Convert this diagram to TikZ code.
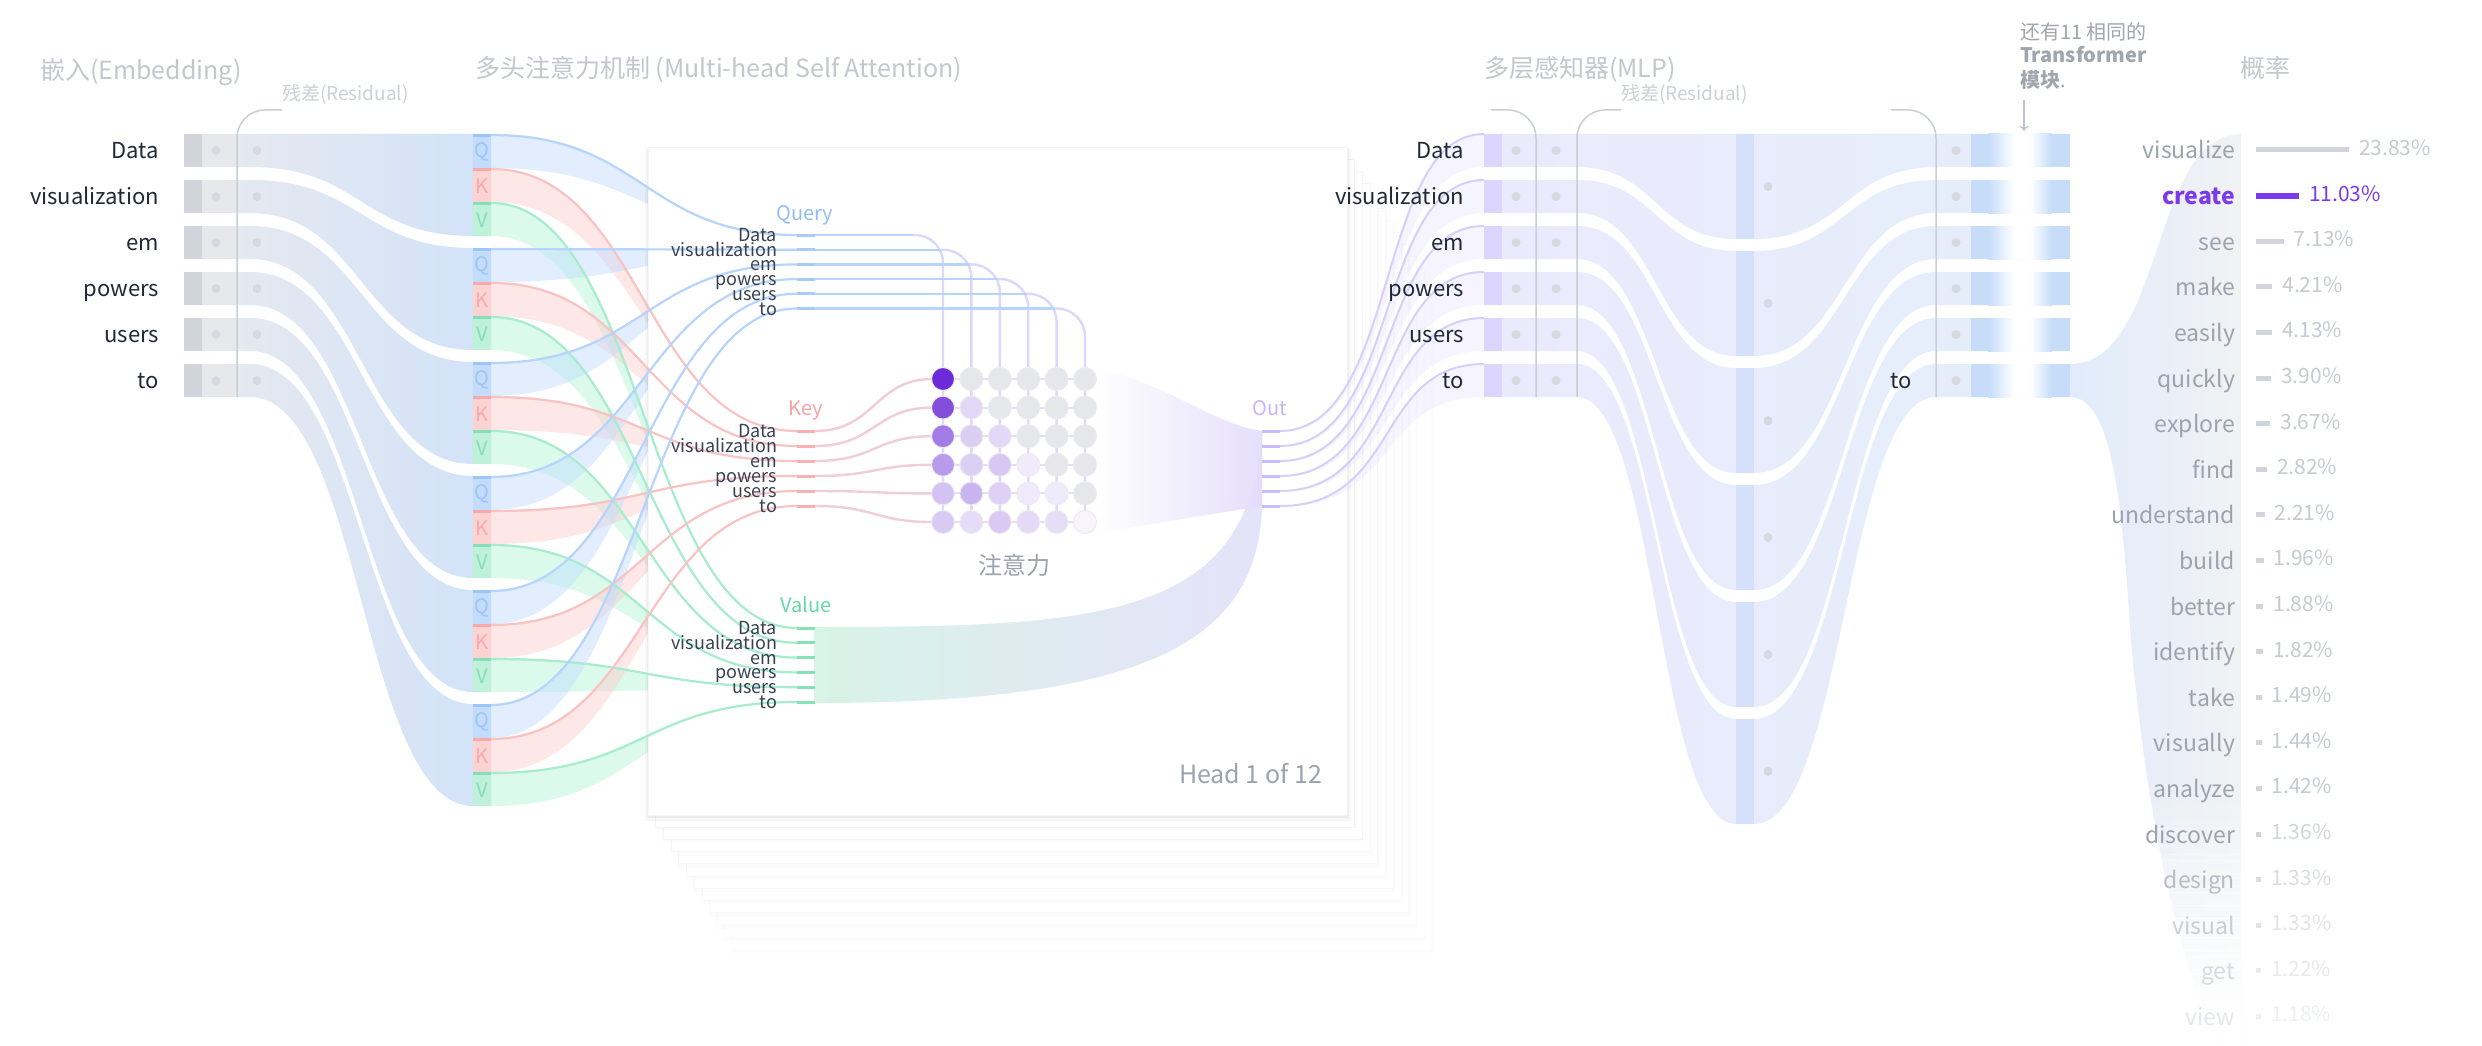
\documentclass[tikz,border=0pt]{standalone}
\usepackage{fontspec}
\setmainfont{Noto Sans CJK SC}
\usetikzlibrary{arrows.meta}

\definecolor{tokc}{HTML}{1F2937}
\definecolor{ptokc}{HTML}{374151}
\definecolor{ttlc}{HTML}{C3C7CE}
\definecolor{resc}{HTML}{CDD0D6}
\definecolor{brkc}{HTML}{C9CDD4}
\definecolor{dotc}{HTML}{D6D9DF}
\definecolor{embdark}{HTML}{D1D5DB}
\definecolor{emblight}{HTML}{E6E8EC}
\definecolor{embL}{HTML}{E5E9F0}
\definecolor{embR}{HTML}{D1E2F9}
\definecolor{qblk}{HTML}{C4DCFB}
\definecolor{qstr}{HTML}{9EC5F8}
\definecolor{kblk}{HTML}{FCD3D3}
\definecolor{kstr}{HTML}{F8AAAA}
\definecolor{vblk}{HTML}{BFF0D9}
\definecolor{vstr}{HTML}{86DFB8}
\definecolor{qln}{HTML}{B7D4FC}
\definecolor{kln}{HTML}{F9C3C3}
\definecolor{vln}{HTML}{A6ECCD}
\definecolor{qfl}{HTML}{BFDBFE}
\definecolor{kfl}{HTML}{FECACA}
\definecolor{vfl}{HTML}{A7F3D0}
\definecolor{lav}{HTML}{DCD7FD}
\definecolor{keyln}{HTML}{F0CDD8}
\definecolor{rowln}{HTML}{EADCF0}
\definecolor{circs}{HTML}{ECEAF3}
\definecolor{qtick}{HTML}{A8CBFA}
\definecolor{ktick}{HTML}{F8B0B0}
\definecolor{vtick}{HTML}{86E0B9}
\definecolor{otick}{HTML}{C9BCFD}
\definecolor{querytxt}{HTML}{93BDF8}
\definecolor{keytxt}{HTML}{F5A3A3}
\definecolor{valtxt}{HTML}{66D9A6}
\definecolor{outtxt}{HTML}{C4B5FD}
\definecolor{valL}{HTML}{D8F3E7}
\definecolor{valR}{HTML}{E5E3FA}
\definecolor{attnR}{HTML}{E2DCFB}
\definecolor{greytxt}{HTML}{9CA3AF}
\definecolor{outln}{HTML}{D6CFFC}
\definecolor{outfl}{HTML}{DDD6FE}
\definecolor{mlpL}{HTML}{EBEAFC}
\definecolor{mlpR}{HTML}{E4EEFB}
\definecolor{mlppur}{HTML}{DCD5FD}
\definecolor{mlpbig}{HTML}{D5E0FA}
\definecolor{bandblue}{HTML}{C6DCF9}
\definecolor{probL}{HTML}{E1EBFB}
\definecolor{probR}{HTML}{F1F2F4}
\definecolor{purp}{HTML}{7C3AED}
\definecolor{wA}{HTML}{9CA3AF}
\definecolor{wB}{HTML}{B8BDC5}
\definecolor{wC}{HTML}{CACDD3}
\definecolor{wD}{HTML}{D8DADF}
\definecolor{wE}{HTML}{E5E7EA}
\definecolor{pA}{HTML}{C6CAD1}
\definecolor{pB}{HTML}{D2D5DA}
\definecolor{pC}{HTML}{DBDDE1}
\definecolor{pD}{HTML}{E2E4E7}
\definecolor{pE}{HTML}{E8E9EC}
\definecolor{pF}{HTML}{EEEFF1}
\definecolor{bA}{HTML}{D1D5DB}
\definecolor{bB}{HTML}{DADDE2}
\definecolor{bC}{HTML}{E2E4E8}
\definecolor{bD}{HTML}{E8EAED}
\definecolor{bE}{HTML}{EEEFF1}
\definecolor{arrc}{HTML}{BFC3CA}
\definecolor{anntxt}{HTML}{A0A5AE}

\newcommand\mcirc[3]{\definecolor{tmpc}{HTML}{#3}\filldraw[fill=tmpc, draw=circs, line width=1pt] (943+28.4*#2,379+28.6*#1) circle[radius=11.5pt];}

\begin{document}
\begin{tikzpicture}[x=1pt,y=-1pt,
  every node/.style={inner sep=0pt, outer sep=0pt},
  tok/.style={font=\fontsize{22}{26}\selectfont, text=tokc, anchor=base east},
  ptok/.style={font=\fontsize{18}{20}\selectfont, text=ptokc, anchor=base east},
  ttl/.style={font=\fontsize{25}{30}\selectfont, text=ttlc, anchor=base west},
  res/.style={font=\fontsize{19}{22}\selectfont, text=resc, anchor=base west},
  brk/.style={draw=brkc, line width=1.5pt, rounded corners=28pt},
  hdr/.style={font=\fontsize{20}{22}\selectfont, anchor=base},
  blk/.style={font=\fontsize{20}{22}\selectfont},
  dotm/.style={fill=dotc}]
\useasboundingbox (0,0) rectangle (2482,1046);
\fill[white] (0,0) rectangle (2482,1046);

% ---------------- Embedding ribbons
\foreach \i in {0,...,5}{
  \pgfmathsetmacro\rT{134+46*\i}
  \pgfmathsetmacro\rB{167+46*\i}
  \pgfmathsetmacro\gT{134+114*\i}
  \pgfmathsetmacro\gB{236+114*\i}
  \shade[left color=embL, right color=embR] (237,\rT) -- (250,\rT) .. controls (361.5,\rT) and (361.5,\gT) .. (473,\gT) -- (491,\gT) -- (491,\gB) -- (473,\gB) .. controls (361.5,\gB) and (361.5,\rB) .. (250,\rB) -- (237,\rB) -- cycle;
}
\foreach \w [count=\i from 0] in {Data,visualization,em,powers,users,to}{
  \pgfmathsetmacro\rT{134+46*\i}
  \fill[embdark] (184,\rT) rectangle (202,\rT+33);
  \fill[emblight] (202,\rT) rectangle (237,\rT+33);
  \fill[dotm] (216,\rT+16.5) circle[radius=4.5pt];
  \fill[dotm] (257,\rT+16.5) circle[radius=4.5pt];
  \node[tok] (e\i) at (159,\rT+24.5) {\w};
}
\draw[brk] (282,110) -| (237,397);

% ---------------- QKV ribbon fills
\foreach \i in {0,...,5}{
  \pgfmathsetmacro\gT{134+114*\i}
  \pgfmathsetmacro\yq{235+14.7*\i}
  \pgfmathsetmacro\yk{431+15*\i}
  \pgfmathsetmacro\yv{628+14.8*\i}
  \fill[qfl, fill opacity=0.45] (491,\gT) .. controls (644,\gT) and (644,\yq) .. (797,\yq) -- (797,\yq+1.5) .. controls (644,\yq+1.5) and (644,\gT+34) .. (491,\gT+34) -- cycle;
  \fill[kfl, fill opacity=0.45] (491,\gT+34) .. controls (644,\gT+34) and (644,\yk) .. (797,\yk) -- (797,\yk+1.5) .. controls (644,\yk+1.5) and (644,\gT+68) .. (491,\gT+68) -- cycle;
  \fill[vfl, fill opacity=0.4] (491,\gT+68) .. controls (644,\gT+68) and (644,\yv) .. (797,\yv) -- (797,\yv+1.5) .. controls (644,\yv+1.5) and (644,\gT+102) .. (491,\gT+102) -- cycle;
}

% ---------------- stacked head cards
\foreach \k in {11,10,...,1}{
  \pgfmathsetmacro\dx{7.7*\k}
  \pgfmathsetmacro\dy{12.2*\k}
  \pgfmathsetmacro\cc{5-0.35*\k}
  \fill[black, opacity=0.012] (647+\dx,149+\dy) rectangle (1349+\dx,819+\dy);
  \filldraw[fill=white, draw=black!\cc, line width=0.8pt] (648+\dx,147+\dy) rectangle (1347+\dx,815+\dy);
}
\fill[black, opacity=0.03] (645,149) rectangle (1351,821);
\fill[black, opacity=0.04] (647,148) rectangle (1349,818);
\filldraw[fill=white, draw=black!4] (648,147) rectangle (1347,815);

% ---------------- QKV lines
\foreach \i in {0,...,5}{
  \pgfmathsetmacro\gT{134+114*\i}
  \pgfmathsetmacro\yq{235+14.7*\i}
  \pgfmathsetmacro\yk{431+15*\i}
  \pgfmathsetmacro\yv{628+14.8*\i}
  \draw[qln, line width=2.2pt] (491,\gT+1) .. controls (644,\gT+1) and (644,\yq) .. (797,\yq);
  \draw[kln, line width=2.2pt] (491,\gT+35) .. controls (644,\gT+35) and (644,\yk) .. (797,\yk);
  \draw[vln, line width=2.2pt] (491,\gT+69) .. controls (644,\gT+69) and (644,\yv) .. (797,\yv);
}
% QKV blocks
\foreach \i in {0,...,5}{
  \pgfmathsetmacro\gT{134+114*\i}
  \fill[qblk] (473,\gT) rectangle (491,\gT+34);
  \fill[qstr] (473,\gT) rectangle (491,\gT+3);
  \node[blk, text=qstr] (q\i) at (482,\gT+18) {Q};
  \fill[kblk] (473,\gT+34) rectangle (491,\gT+68);
  \fill[kstr] (473,\gT+34) rectangle (491,\gT+37);
  \node[blk, text=kstr] (k\i) at (482,\gT+52) {K};
  \fill[vblk] (473,\gT+68) rectangle (491,\gT+102);
  \fill[vstr] (473,\gT+68) rectangle (491,\gT+71);
  \node[blk, text=vstr] (v\i) at (482,\gT+86) {V};
}

% ---------------- attention panel content
\shade[left color=valL, right color=valR] (814,627) .. controls (1100,627) and (1250,620) .. (1262,431) -- (1262,506) .. controls (1258,640) and (1150,703) .. (814,703) -- cycle;
\shade[left color=white, right color=attnR, fill opacity=0.9] (1097,368) .. controls (1170,385) and (1215,425) .. (1262,431) -- (1262,506) -- (1097,533) -- cycle;

\foreach \i in {0,...,5}{
  \pgfmathsetmacro\yq{235+14.7*\i}
  \pgfmathsetmacro\yk{431+15*\i}
  \pgfmathsetmacro\cx{943+28.4*\i}
  \pgfmathsetmacro\ry{379+28.6*\i}
  \draw[rowln, line width=2pt] (932,\ry) -- (1085,\ry);
  \draw[qln, line width=2.4pt] (815,\yq) -- (\cx-30,\yq);
  \draw[lav, line width=2.4pt, rounded corners=28pt] (\cx-30,\yq) -- (\cx,\yq) -- (\cx,522);
  \draw[keyln, line width=2.4pt] (815,\yk) .. controls (875,\yk) and (875,\ry) .. (932,\ry);
}
\mcirc{0}{0}{6B2BD9}\mcirc{0}{1}{E5E7EB}\mcirc{0}{2}{E5E7EB}\mcirc{0}{3}{E5E7EB}\mcirc{0}{4}{E5E7EB}\mcirc{0}{5}{E5E7EB}
\mcirc{1}{0}{844DDC}\mcirc{1}{1}{E2D8F6}\mcirc{1}{2}{E5E7EB}\mcirc{1}{3}{E5E7EB}\mcirc{1}{4}{E5E7EB}\mcirc{1}{5}{E5E7EB}
\mcirc{2}{0}{A37BE6}\mcirc{2}{1}{DCCDF3}\mcirc{2}{2}{E3D9F6}\mcirc{2}{3}{E5E7EB}\mcirc{2}{4}{E5E7EB}\mcirc{2}{5}{E5E7EB}
\mcirc{3}{0}{B89BEA}\mcirc{3}{1}{DCCFF4}\mcirc{3}{2}{D8C7F2}\mcirc{3}{3}{F0EBFB}\mcirc{3}{4}{E5E7EB}\mcirc{3}{5}{E5E7EB}
\mcirc{4}{0}{D3C2F2}\mcirc{4}{1}{C9B4EF}\mcirc{4}{2}{DDD0F4}\mcirc{4}{3}{EFE9FA}\mcirc{4}{4}{F0EBFB}\mcirc{4}{5}{E5E7EB}
\mcirc{5}{0}{D9CAF3}\mcirc{5}{1}{E5DCF7}\mcirc{5}{2}{DACAF3}\mcirc{5}{3}{E4DAF6}\mcirc{5}{4}{E6DEF7}\mcirc{5}{5}{F7F4FD}

\foreach \w [count=\i from 0] in {Data,visualization,em,powers,users,to}{
  \pgfmathsetmacro\yq{235+14.7*\i}
  \pgfmathsetmacro\yk{431+15*\i}
  \pgfmathsetmacro\yv{628+14.8*\i}
  \fill[qtick] (797,\yq-1.5) rectangle (815,\yq+1.5);
  \fill[ktick] (797,\yk-1.5) rectangle (815,\yk+1.5);
  \fill[vtick] (797,\yv-1.5) rectangle (815,\yv+1.5);
  \fill[otick] (1262,\yk-1.5) rectangle (1280,\yk+1.5);
  \node[ptok] (qt\i) at (777,\yq+6.5) {\w};
  \node[ptok] (kt\i) at (777,\yk+6.5) {\w};
  \node[ptok] (vt\i) at (777,\yv+6.5) {\w};
}
\node[hdr, text=querytxt] (qlab) at (805,220) {Query};
\node[hdr, text=keytxt] (klab) at (806,415) {Key};
\node[hdr, text=valtxt] (vlab) at (806,612) {Value};
\node[hdr, text=outtxt] (olab) at (1270,415) {Out};
\node[font=\fontsize{24}{26}\selectfont, text=greytxt, anchor=base] (attn) at (1014,574) {注意力};
\node[font=\fontsize{25}{28}\selectfont, text=greytxt, anchor=base east] (head) at (1322,783) {Head 1 of 12};

% ---------------- Out -> MLP
\foreach \j in {0,...,5}{
  \pgfmathsetmacro\yo{431+15*\j}
  \pgfmathsetmacro\rT{134+46*\j}
  \pgfmathsetmacro\rB{167+46*\j}
  \fill[outfl, fill opacity=0.25] (1280,\yo) .. controls (1400,\yo) and (1375,\rT) .. (1484,\rT) -- (1484,\rB) .. controls (1375,\rB) and (1400,\yo+1) .. (1280,\yo+1) -- cycle;
  \draw[outln, line width=2pt] (1280,\yo) .. controls (1400,\yo) and (1375,\rT) .. (1484,\rT);
}

% ---------------- MLP
\foreach \i in {0,...,5}{
  \pgfmathsetmacro\rT{134+46*\i}
  \pgfmathsetmacro\rB{167+46*\i}
  \pgfmathsetmacro\BT{134+117*\i}
  \pgfmathsetmacro\BB{239+117*\i}
  \shade[left color=mlpL, right color=mlpR] (1484,\rT) -- (1577,\rT) .. controls (1656.5,\rT) and (1656.5,\BT) .. (1736,\BT) -- (1754,\BT) .. controls (1845,\BT) and (1845,\rT) .. (1936,\rT) -- (2070,\rT) -- (2070,\rB) -- (1936,\rB) .. controls (1845,\rB) and (1845,\BB) .. (1754,\BB) -- (1736,\BB) .. controls (1656.5,\BB) and (1656.5,\rB) .. (1577,\rB) -- (1484,\rB) -- cycle;
}
\foreach \w [count=\i from 0] in {Data,visualization,em,powers,users,to}{
  \pgfmathsetmacro\rT{134+46*\i}
  \pgfmathsetmacro\BT{134+117*\i}
  \fill[mlppur] (1484,\rT) rectangle (1502,\rT+33);
  \fill[mlpbig] (1736,\BT) rectangle (1754,\BT+105);
  \fill[bandblue] (1971,\rT) rectangle (1988,\rT+33);
  \shade[left color=bandblue, right color=white] (1988,\rT) rectangle (2014,\rT+33);
  \fill[white] (2014,\rT) rectangle (2030,\rT+33);
  \shade[left color=white, right color=bandblue] (2030,\rT) rectangle (2052,\rT+33);
  \fill[bandblue] (2052,\rT) rectangle (2070,\rT+33);
  \fill[dotm] (1516,\rT+16.5) circle[radius=4.5pt];
  \fill[dotm] (1556,\rT+16.5) circle[radius=4.5pt];
  \fill[dotm] (1768,\BT+52.5) circle[radius=4.5pt];
  \fill[dotm] (1956,\rT+16.5) circle[radius=4.5pt];
  \node[tok] (m\i) at (1464,\rT+24.5) {\w};
}
\node[tok] (mto) at (1912,388.5) {to};
\draw[brk] (1491,110) -| (1536,397);
\draw[brk] (1621,110) -| (1577,397);
\draw[brk] (1891,110) -| (1936,397);

% ---------------- probabilities
\begin{scope}
\clip (2070,364) .. controls (2165,364) and (2150,134) .. (2241,134) -- (2241,1046) -- (2222,1046) .. controls (2175,960) and (2145,800) .. (2131,640) .. controls (2122,500) and (2112,397) .. (2070,397) -- cycle;
\shade[left color=probL, right color=probR] (2070,134) rectangle (2241,1046);
\foreach \s in {0,...,39}{
  \pgfmathsetmacro\op{min(1,(\s+1)/36)}
  \fill[white, fill opacity=\op] (2060,790+6.4*\s) rectangle (2250,797+6.4*\s);
}
\end{scope}

\foreach \w/\p/\k/\wc/\pc/\bc in {visualize/23.83/0/wA/pA/bA, see/7.13/2/wA/pA/bA, make/4.21/3/wA/pA/bA, easily/4.13/4/wA/pA/bA, quickly/3.90/5/wA/pA/bA, explore/3.67/6/wA/pA/bA, find/2.82/7/wA/pA/bA, understand/2.21/8/wA/pA/bA, build/1.96/9/wA/pA/bA, better/1.88/10/wA/pA/bA, identify/1.82/11/wA/pA/bA, take/1.49/12/wA/pA/bA, visually/1.44/13/wA/pA/bA, analyze/1.42/14/wA/pA/bA, discover/1.36/15/wA/pB/bA, design/1.33/16/wB/pC/bB, visual/1.33/17/wC/pD/bC, get/1.22/18/wD/pE/bD, view/1.18/19/wE/pF/bE}{
  \pgfmathsetmacro\yy{150+45.6*\k}
  \pgfmathsetmacro\len{max(5,93*\p/23.83)}
  \node[font=\fontsize{23}{25}\selectfont, text=\wc, anchor=base east] (pw\k) at (2235,\yy+9) {\w};
  \fill[\bc] (2256,\yy-2.5) rectangle (2256+\len,\yy+2.5);
  \node[font=\fontsize{21}{23}\selectfont, text=\pc, anchor=base west] (pp\k) at (2266+\len,\yy+5.5) {\p\%};
}
\node[font=\bfseries\fontsize{23}{25}\selectfont, text=purp, anchor=base east] (pw1) at (2235,204.6) {create};
\fill[purp] (2256,192.6) rectangle (2299,198.6);
\node[font=\fontsize{21}{23}\selectfont, text=purp, anchor=base west] (pp1) at (2309,201.1) {11.03\%};

% ---------------- titles
\node[ttl] (t1) at (40,80) {嵌入(Embedding)};
\node[res] (r1) at (282,101) {残差(Residual)};
\node[ttl] (t2) at (475,78) {多头注意力机制 (Multi-head Self Attention)};
\node[ttl] (t3) at (1484,78) {多层感知器(MLP)};
\node[res] (r2) at (1621,101) {残差(Residual)};
\node[ttl, anchor=base] (t4) at (2265,78) {概率};
\node[font=\fontsize{20}{22}\selectfont, text=anntxt, anchor=base west] (a1) at (2020,40) {还有11 相同的};
\node[font=\bfseries\fontsize{20}{22}\selectfont, text=anntxt, anchor=base west] (a2) at (2020,63) {Transformer};
\node[font=\fontsize{20}{22}\selectfont, text=anntxt, anchor=base west] (a3) at (2020,88) {\textbf{模块}.};
\coordinate (arrS) at (2024,100);
\coordinate (arrE) at (2024,131);
\draw[arrc, line width=1.2pt, -{To[length=5pt,width=9pt]}] (arrS) -- (arrE);
\end{tikzpicture}
\end{document}
